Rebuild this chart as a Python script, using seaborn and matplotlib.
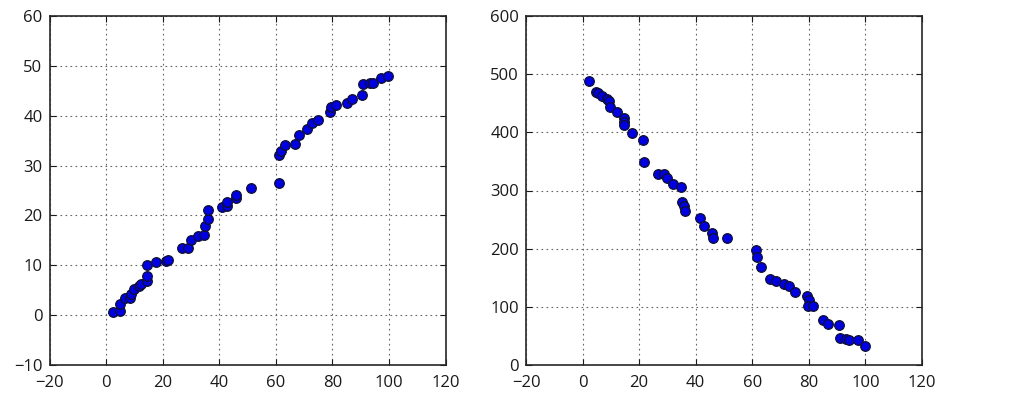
import matplotlib
matplotlib.use("Agg")
import matplotlib.pyplot as plt
import seaborn as sns
import pandas as pd

# Left panel data
x_left = [2.4, 4.8, 4.8, 6.6, 8.3, 8.8, 10.0, 11.8, 12.5, 14.4, 14.4, 14.4, 17.7, 21.2, 22.0,
          26.8, 28.8, 30.1, 32.4, 34.7, 35.1, 36.0, 36.0, 40.9, 42.7, 42.8, 46.0, 46.0, 51.1,
          61.0, 61.2, 61.8, 63.1, 66.7, 68.2, 70.9, 72.9, 75.0, 79.2, 79.6, 81.3, 85.0, 86.8,
          90.4, 90.7, 93.4, 94.3, 97.2, 99.8]
y_left = [0.7, 0.8, 2.3, 3.4, 3.4, 4.3, 5.2, 5.9, 6.2, 6.9, 7.9, 10.1, 10.6, 10.9, 11.1,
          13.4, 13.5, 15.0, 15.8, 16.0, 17.9, 19.3, 21.1, 21.7, 21.9, 22.7, 23.5, 24.1, 25.5,
          26.5, 32.1, 33.0, 34.2, 34.4, 36.2, 37.4, 38.5, 39.2, 40.8, 41.7, 42.1, 42.5, 43.3,
          44.1, 46.3, 46.6, 46.6, 47.5, 47.9]

# Right panel data
x_right = [2.4, 4.9, 5.6, 6.8, 8.6, 9.2, 9.8, 12.1, 14.5, 14.7, 14.8, 17.5, 21.5, 21.7,
           26.6, 28.7, 30.0, 32.1, 34.9, 35.3, 35.7, 36.2, 41.4, 43.0, 45.7, 46.1, 51.2,
           61.2, 61.7, 63.2, 66.4, 68.3, 71.2, 73.1, 75.0, 79.3, 79.9, 79.7, 81.5, 85.1,
           86.9, 90.6, 90.9, 93.1, 94.1, 97.2, 99.8]
y_right = [488, 469, 468, 463, 458, 454, 444, 435, 425, 417, 412, 399, 386, 349,
           329, 328, 322, 312, 306, 280, 273, 264, 253, 239, 227, 218, 218,
           198, 186, 168, 147, 145, 139, 136, 125, 118, 111, 102, 101, 77,
           71, 68, 46, 44, 43, 43, 32]

x_ticks = [-20, 0, 20, 40, 60, 80, 100, 120]
y_ticks_left = [-10, 0, 10, 20, 30, 40, 50, 60]
y_ticks_right = [0, 100, 200, 300, 400, 500, 600]

plt.rcParams['font.family'] = ['Open Sans', 'DejaVu Sans']

fig = plt.figure(figsize=(10.22, 3.96), dpi=100, facecolor='white')
ax1 = fig.add_axes([49.5 / 1022, 31 / 396, 396 / 1022, 349 / 396])
ax2 = fig.add_axes([526 / 1022, 31 / 396, 396 / 1022, 349 / 396])

df_l = pd.DataFrame({'x': x_left, 'y': y_left})
df_r = pd.DataFrame({'x': x_right, 'y': y_right})

for ax, df, yt in [(ax1, df_l, y_ticks_left), (ax2, df_r, y_ticks_right)]:
    sns.scatterplot(data=df, x='x', y='y', ax=ax, color='#0000e0', edgecolor='#101030',
                    linewidth=0.9, s=48, zorder=3)
    ax.set_xlim(x_ticks[0], x_ticks[-1])
    ax.set_ylim(yt[0], yt[-1])
    ax.set_xticks(x_ticks)
    ax.set_yticks(yt)
    ax.set_xlabel('')
    ax.set_ylabel('')
    ax.grid(True, linestyle=(0, (1.5, 3)), color='0.4', linewidth=0.8)
    ax.set_axisbelow(True)
    for sp in ax.spines.values():
        sp.set_color('0.15')
        sp.set_linewidth(1.2)
    ax.tick_params(direction='in', top=True, right=True, length=4, labelsize=12,
                   colors='0.1')
    ax.tick_params(axis='y', pad=5)
    ax.tick_params(axis='x', pad=7)
    ax.set_facecolor('white')

fig.savefig('out.png', dpi=100, facecolor='white')
